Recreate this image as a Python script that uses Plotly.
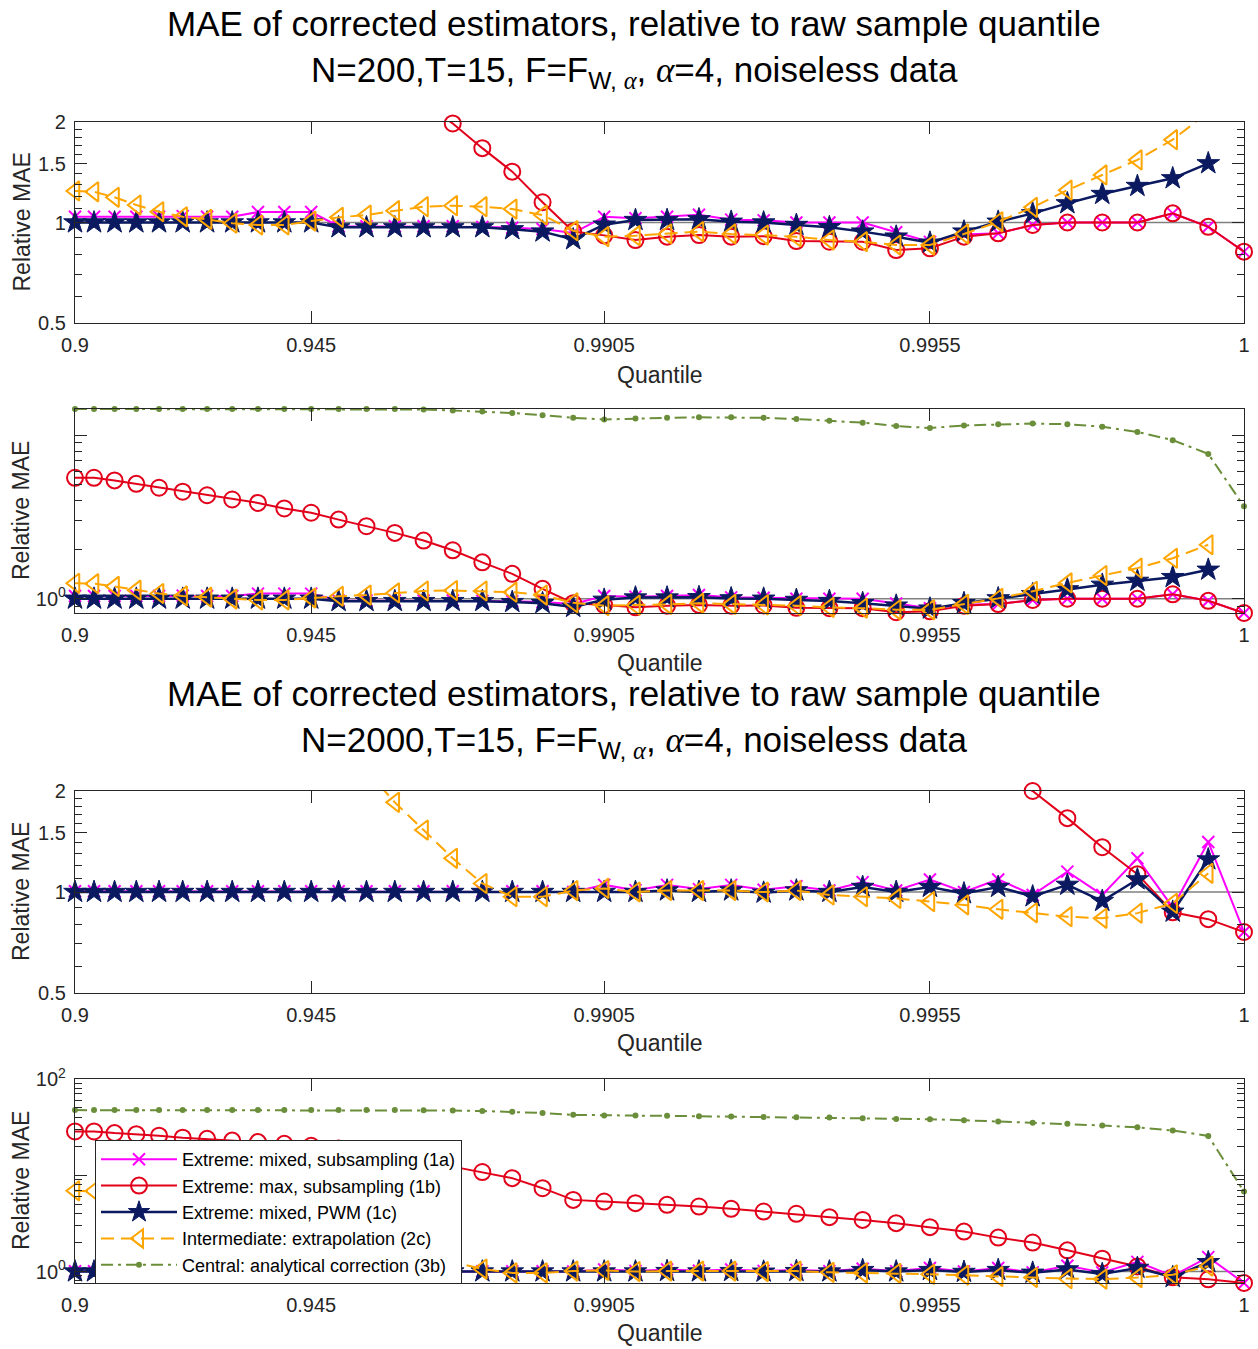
import numpy as np
import plotly.graph_objects as go

# ---------------- data ----------------
n_points = 40                      # quantile grid points (index 0..39)
tick_index = [0, 10, 20, 30, 39]
tick_labels = ["0.9", "0.945", "0.9905", "0.9955", "1"]

# N = 200 (panels 1 and 2)
mixed_sub_200 = [1.04, 1.04, 1.04, 1.04, 1.04, 1.045, 1.04, 1.04, 1.075, 1.075,
                 1.075, 0.975, 0.975, 0.975, 0.975, 0.975, 0.97, 0.965, 0.956, 0.93,
                 1.04, 1.03, 1.04, 1.055, 1.02, 1.015, 1.0, 1.0, 1.0, 0.935,
                 0.875, 0.92, 0.928, 0.983, 1.0, 1.0, 1.0, 1.065, 0.971, 0.818]
max_sub_200 = [5.5, 5.5, 5.3, 5.05, 4.78, 4.52, 4.3, 4.05, 3.86, 3.57,
               3.36, 3.05, 2.78, 2.53, 2.27, 1.98, 1.67, 1.42, 1.15, 0.94,
               0.915, 0.886, 0.907, 0.917, 0.907, 0.91, 0.88, 0.876, 0.876, 0.827,
               0.837, 0.907, 0.928, 0.983, 1.0, 1.0, 1.0, 1.065, 0.971, 0.818]
pwm_200 = [1.0, 1.0, 1.0, 1.0, 1.0, 1.0, 1.0, 1.0, 1.0, 1.0,
           1.0, 0.967, 0.967, 0.967, 0.967, 0.967, 0.967, 0.954, 0.939, 0.89,
           0.985, 1.017, 1.017, 1.022, 1.005, 1.0, 0.983, 0.968, 0.939, 0.907,
           0.87, 0.939, 1.005, 1.065, 1.141, 1.217, 1.286, 1.356, 1.504, None]
extrap_200 = [1.243, 1.236, 1.19, 1.128, 1.077, 1.04, 1.022, 0.995, 0.983, 0.983,
              1.01, 1.036, 1.053, 1.085, 1.115, 1.123, 1.115, 1.097, 1.053, 0.945,
              0.907, 0.913, 0.924, 0.939, 0.924, 0.917, 0.907, 0.886, 0.876, 0.856,
              0.856, 0.924, 1.005, 1.11, 1.25, 1.388, 1.54, 1.77, 2.14, None]
analytic_200 = [14.5, 14.5, 14.5, 14.5, 14.5, 14.5, 14.5, 14.5, 14.5, 14.5,
                14.5, 14.5, 14.5, 14.5, 14.4, 14.2, 14.0, 13.7, 13.3, 12.8,
                12.5, 12.7, 12.8, 12.9, 12.9, 12.8, 12.6, 12.3, 11.96, 11.4,
                11.1, 11.5, 11.7, 11.8, 11.7, 11.3, 10.5, 9.35, 7.7, 3.68]

# N = 2000 (panels 3 and 4)
mixed_sub_2000 = [1.005, 1.005, 1.005, 1.005, 1.005, 1.005, 1.005, 1.005, 1.005, 1.005,
                  1.005, 1.005, 1.005, 1.005, 1.005, 1.005, 1.005, 1.005, 1.005, 1.0,
                  1.05, 1.013, 1.05, 1.02, 1.05, 1.015, 1.04, 1.01, 1.07, 1.01,
                  1.09, 1.0, 1.09, 0.98, 1.15, 0.98, 1.26, 0.9, 1.41, 0.76]
max_sub_2000 = [28.5, 28.5, 27.4, 26.7, 25.8, 24.6, 23.9, 22.9, 22.1, 21.2,
                20.2, 19.0, 17.5, 15.8, 14.0, 12.3, 10.8, 9.33, 7.34, 5.55,
                5.33, 5.13, 4.93, 4.73, 4.48, 4.2, 3.98, 3.67, 3.44, 3.18,
                2.89, 2.6, 2.25, 2.0, 1.66, 1.36, 1.13, 0.87, 0.83, 0.76]
pwm_2000 = [1.0, 1.0, 1.0, 1.0, 1.0, 1.0, 1.0, 1.0, 1.0, 1.0,
            1.0, 1.0, 1.0, 1.0, 1.0, 1.0, 1.0, 1.0, 1.0, 1.0,
            1.0, 1.0, 1.01, 1.0, 1.01, 0.995, 1.01, 1.0, 1.035, 1.0,
            1.035, 0.99, 1.035, 0.97, 1.05, 0.94, 1.09, 0.873, 1.25, None]
extrap_2000 = [6.9, 6.85, 6.7, 6.5, 6.2, 5.8, 5.3, 4.7, 4.1, 3.5,
               3.0, 2.6, 2.3, 1.85, 1.53, 1.26, 1.06, 0.968, 0.968, 1.01,
               1.025, 1.0, 1.01, 1.01, 1.01, 1.0, 1.01, 0.98, 0.968, 0.957,
               0.936, 0.915, 0.888, 0.867, 0.844, 0.835, 0.865, 0.925, 1.137, None]
analytic_2000 = [47.5, 47.5, 47.5, 47.5, 47.5, 47.5, 47.5, 47.5, 47.5, 47.5,
                 47.5, 47.5, 47.5, 47.5, 47.3, 47.0, 46.5, 45.8, 44.3, 42.4,
                 41.7, 41.7, 41.4, 41.0, 40.7, 40.4, 40.1, 39.7, 39.1, 38.5,
                 38.2, 37.3, 36.2, 35.2, 34.2, 32.9, 31.5, 29.2, 25.6, 6.77]

series_names = ["Extreme: mixed, subsampling (1a)",
                "Extreme: max, subsampling (1b)",
                "Extreme: mixed, PWM (1c)",
                "Intermediate: extrapolation (2c)",
                "Central: analytical correction (3b)"]

# ---------------- styles ----------------
FONT = "Liberation Sans, Arial, Helvetica, sans-serif"
AX = "#262626"
styles = [
    dict(line=dict(color="#FF00FF", width=2),
         marker=dict(symbol="x-thin-open", size=12, color="#FF00FF",
                     line=dict(color="#FF00FF", width=2))),
    dict(line=dict(color="#E2001A", width=2),
         marker=dict(symbol="circle-open", size=16, color="#E2001A",
                     line=dict(color="#E2001A", width=2))),
    dict(line=dict(color="#0B1A60", width=2.5),
         marker=dict(symbol="star", size=17, color="#0B1A60",
                     line=dict(color="#0B1A60", width=1))),
    dict(line=dict(color="#FFA500", width=2, dash="13px,7px"),
         marker=dict(symbol="triangle-left-open", size=17, color="#FFA500",
                     line=dict(color="#FFA500", width=2))),
    dict(line=dict(color="#6B8E3A", width=2, dash="12px,5px,3px,5px"),
         marker=dict(symbol="circle", size=6, color="#6B8E3A",
                     line=dict(width=0))),
]

# index positions along the (non-uniform) quantile axis of the original
idx = np.arange(n_points)
x_pos = (idx + 2.0) ** 1.226
tick_pos = [float(x_pos[i]) for i in tick_index]

H = 1349.0
def pdom(top_px, bot_px):
    return [1 - bot_px / H, 1 - top_px / H]

data200 = [mixed_sub_200, max_sub_200, pwm_200, extrap_200, analytic_200]
data2000 = [mixed_sub_2000, max_sub_2000, pwm_2000, extrap_2000, analytic_2000]

def vmin(ds):
    return min(v for s in ds for v in s if v is not None)
def vmax(ds):
    return max(v for s in ds for v in s if v is not None)

lin_minor = [0.6, 0.7, 0.8, 0.9, 1.1, 1.2, 1.3, 1.4, 1.6, 1.7, 1.8, 1.9]
log_minor = [0.8, 0.9, 2, 3, 4, 5, 6, 7, 8, 9, 20, 30, 40, 50, 60, 70, 80, 90]

panels = [
    dict(data=data200, rng=(0.5, 2.0), tv=[0.5, 1, 1.5, 2], tt=["0.5", "1", "1.5", "2"],
         minor=lin_minor, dom=pdom(122, 323), split=True, legend=False),
    dict(data=data200, rng=(vmin(data200), vmax(data200)), tv=[1, 10],
         tt=["10<sup>0</sup>", ""], minor=log_minor, dom=pdom(409, 613), split=False, legend=False),
    dict(data=data2000, rng=(0.5, 2.0), tv=[0.5, 1, 1.5, 2], tt=["0.5", "1", "1.5", "2"],
         minor=lin_minor, dom=pdom(791, 993), split=True, legend=False),
    dict(data=data2000, rng=(vmin(data2000), 100.0), tv=[1, 10, 100],
         tt=["10<sup>0</sup>", "", "10<sup>2</sup>"], minor=log_minor, dom=pdom(1079, 1283),
         split=False, legend=True),
]

fig = go.Figure()
layout_axes = {}
for k, p in enumerate(panels):
    n = "" if k == 0 else str(k + 1)
    xa, ya = "x" + n, "y" + n
    lo, hi = p["rng"]
    # reference line at relative MAE = 1
    fig.add_trace(go.Scatter(x=[x_pos[0], x_pos[-1]], y=[1, 1], mode="lines",
                             line=dict(color="#808080", width=1.5), xaxis=xa, yaxis=ya,
                             showlegend=False, hoverinfo="skip"))
    for s, (ser, st, nm) in enumerate(zip(p["data"], styles, series_names)):
        if p["split"]:
            fig.add_trace(go.Scatter(x=x_pos, y=ser, mode="lines", line=st["line"],
                                     xaxis=xa, yaxis=ya, showlegend=False, hoverinfo="skip"))
            ym = [v if (v is not None and lo * 0.999 <= v <= hi * 1.001) else None for v in ser]
            fig.add_trace(go.Scatter(x=x_pos, y=ym, mode="markers", marker=st["marker"],
                                     cliponaxis=False, xaxis=xa, yaxis=ya, showlegend=False,
                                     hoverinfo="skip"))
        else:
            fig.add_trace(go.Scatter(x=x_pos, y=ser, mode="lines+markers", line=st["line"],
                                     marker=st["marker"], cliponaxis=False, name=nm,
                                     xaxis=xa, yaxis=ya, showlegend=p["legend"]))
    layout_axes["xaxis" + n] = dict(
        domain=[0, 1], anchor=ya, range=[x_pos[0], x_pos[-1]], automargin=False,
        tickmode="array", tickvals=tick_pos, ticktext=tick_labels,
        ticks="inside", ticklen=12, tickwidth=1, tickcolor=AX,
        showline=True, linecolor=AX, linewidth=1.3, mirror="ticks",
        showgrid=False, zeroline=False, ticklabelstandoff=4,
        tickfont=dict(family=FONT, size=20, color=AX))
    layout_axes["yaxis" + n] = dict(
        domain=p["dom"], anchor=xa, type="log", automargin=False,
        range=[np.log10(lo), np.log10(hi)],
        tickmode="array", tickvals=p["tv"], ticktext=p["tt"],
        ticks="inside", ticklen=12, tickwidth=1, tickcolor=AX,
        minor=dict(tickmode="array", tickvals=p["minor"], ticks="inside",
                   ticklen=7, tickwidth=1, tickcolor=AX, showgrid=False),
        showline=True, linecolor=AX, linewidth=1.3, mirror="ticks",
        showgrid=False, zeroline=False, ticklabelstandoff=4,
        tickfont=dict(family=FONT, size=20, color=AX))

def py(px):
    return 1 - px / H

alpha = '<span style="font-family:Liberation Serif;font-style:italic">α</span>'
ann = []
for n_obs, y1, y2 in [(200, 23, 68), (2000, 694, 738)]:
    ann.append(dict(text="MAE of corrected estimators, relative to raw sample quantile",
                    x=(634 - 75) / 1169, y=py(y1), xref="paper", yref="paper",
                    showarrow=False, xanchor="center", yanchor="middle",
                    font=dict(family=FONT, size=35, color="#000000")))
    ann.append(dict(text=f"N={n_obs},T=15, F=F<sub>W, {alpha}</sub>, {alpha}=4, noiseless data",
                    x=(634 - 75) / 1169, y=py(y2 - 20), xref="paper", yref="paper",
                    showarrow=False, xanchor="center", yanchor="top",
                    font=dict(family=FONT, size=35, color="#000000")))
for yq in [375, 663, 1043, 1333]:
    ann.append(dict(text="Quantile", x=0.5, y=py(yq), xref="paper", yref="paper",
                    showarrow=False, xanchor="center", yanchor="middle",
                    font=dict(family=FONT, size=23, color=AX)))
for top, bot in [(122, 323), (409, 613), (791, 993), (1079, 1283)]:
    ann.append(dict(text="Relative MAE", x=(21 - 75) / 1169, y=py((top + bot) / 2),
                    xref="paper", yref="paper", showarrow=False, textangle=-90,
                    xanchor="center", yanchor="middle",
                    font=dict(family=FONT, size=23, color=AX)))

fig.update_layout(
    template="none",
    width=1258, height=1349, autosize=False,
    margin=dict(l=75, r=14, t=0, b=0, autoexpand=False),
    paper_bgcolor="white", plot_bgcolor="white",
    font=dict(family=FONT, color=AX),
    annotations=ann,
    legend=dict(x=(95 - 75) / 1169, y=py(1140), xanchor="left", yanchor="top",
                bgcolor="white", bordercolor=AX, borderwidth=1,
                font=dict(family=FONT, size=18, color="#000000"),
                itemwidth=76, tracegroupgap=0),
    showlegend=True,
    **layout_axes,
)

fig.write_html("out.html")
